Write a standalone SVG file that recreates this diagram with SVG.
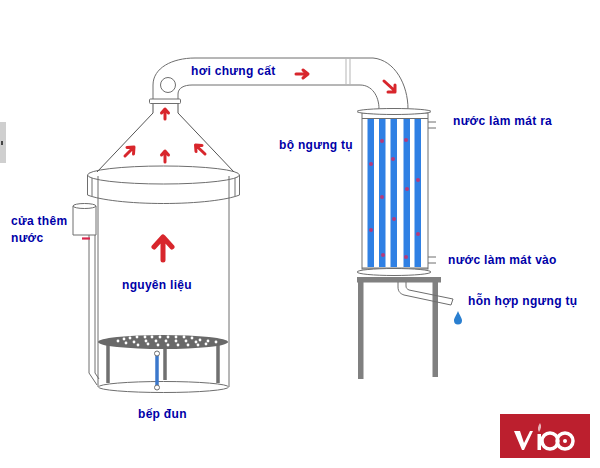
<svg xmlns="http://www.w3.org/2000/svg" width="600" height="468" viewBox="0 0 600 468">
<style>
.l{font-family:"Liberation Sans",Arial,sans-serif;font-size:12px;font-weight:bold;fill:#0000a8;letter-spacing:.3px}
.s{fill:none;stroke:#6e6e6e;stroke-width:1}
.t{fill:#fff;stroke:#6e6e6e;stroke-width:1}
.g{fill:#808080}
.b{fill:#2f80e4}
.a{fill:none;stroke:#d8262c;stroke-width:3;stroke-linecap:round;stroke-linejoin:round}
.d{fill:#b5397a}
.w{fill:#fff}
</style>
<rect width="600" height="468" fill="#fff"/>
<g id="side-tab"><rect x="0" y="122" width="6" height="41" fill="#cfcfcf"/><rect x="1" y="141" width="2" height="4" fill="#444"/></g>
<g id="boiler">
<path class="s" d="M98 176V387M229 176V387"/>
<ellipse class="s" cx="163.500" cy="175" rx="76" ry="9"/>
<path class="s" d="M87.500 175V195C100 200 130 203.500 163.500 203.500S227 200 239.500 195V175"/>
<path class="s" d="M92 178V196M235 178V196"/>
<ellipse class="t" cx="163.500" cy="387" rx="65" ry="5.500"/>
</g>
<g id="grate">
<path d="M108 345V383M165 345V380M218 345V383" fill="none" stroke="#707070" stroke-width="3.500"/>
<ellipse cx="163" cy="342" rx="65" ry="7" fill="#696969"/>
<g class="w">
<circle cx="118" cy="341" r="1.400"/><circle cx="124" cy="339" r="1.400"/><circle cx="130" cy="338" r="1.400"/><circle cx="137" cy="337" r="1.400"/><circle cx="145" cy="337" r="1.400"/><circle cx="152" cy="337" r="1.400"/><circle cx="160" cy="337" r="1.400"/><circle cx="168" cy="337" r="1.400"/><circle cx="176" cy="337" r="1.400"/><circle cx="184" cy="337" r="1.400"/><circle cx="192" cy="338" r="1.400"/><circle cx="200" cy="340" r="1.400"/><circle cx="208" cy="341" r="1.400"/><circle cx="216" cy="342" r="1.400"/>
<circle cx="126" cy="343" r="1.400"/><circle cx="134" cy="342" r="1.400"/><circle cx="146" cy="341" r="1.400"/><circle cx="156" cy="341" r="1.400"/><circle cx="166" cy="341" r="1.400"/><circle cx="176" cy="341" r="1.400"/><circle cx="186" cy="341" r="1.400"/><circle cx="196" cy="342" r="1.400"/><circle cx="206" cy="344" r="1.400"/>
<circle cx="138" cy="345" r="1.400"/><circle cx="148" cy="344" r="1.400"/><circle cx="158" cy="345" r="1.400"/><circle cx="168" cy="345" r="1.400"/><circle cx="178" cy="345" r="1.400"/><circle cx="188" cy="345" r="1.400"/><circle cx="198" cy="345" r="1.400"/>
</g>
</g>
<g id="burner">
<path d="M157 355V386" stroke="#3b78cc" stroke-width="3.500" fill="none"/>
<circle class="t" cx="157" cy="353.500" r="2.500"/>
<circle class="t" cx="157" cy="387.500" r="2.500"/>
</g>
<g id="water-inlet">
<path class="s" d="M89 235V373L97 385M95 235V373L99 379"/>
<path class="t" d="M73 206V235H96V206"/>
<ellipse class="t" cx="84.500" cy="206" rx="11.500" ry="2.500"/>
<path d="M82 238.500H90" stroke="#d8264c" stroke-width="2.200" fill="none"/>
</g>
<g id="hood">
<path d="M153 103V113L97 172M178 103V113L234 172" fill="none" stroke="#555" stroke-width="1"/>
</g>
<g id="vapor-pipe">
<path class="s" d="M153 99V85C153 68 172 58 195 58H373C395 60 408 85 408 109M178 99V94C178 88 184 85 192 85H360C372 85 379 96 379 109"/>
<path d="M346 58V85M350 58V85" fill="none" stroke="#b5b5b5" stroke-width="1"/>
<circle class="s" cx="168" cy="85" r="7.500"/>
<rect class="t" x="149.500" y="99" width="31" height="4.500" rx="1"/>
</g>
<g id="condenser">
<path class="t" d="M428 122H436M428 128H436M428 257H436M428 263H436"/>
<rect class="t" x="362" y="113" width="66" height="156"/>
<path class="s" d="M362 118.500H428M362 268H428"/>
<g class="b">
<rect x="367.500" y="119" width="6.500" height="148"/><rect x="379" y="119" width="6.500" height="148"/><rect x="390.500" y="119" width="6.500" height="148"/><rect x="403.500" y="119" width="6.500" height="148"/><rect x="414.500" y="119" width="6.500" height="148"/>
</g>
<g class="d">
<circle cx="382" cy="141" r="2"/><circle cx="406" cy="140" r="2"/><circle cx="371" cy="164" r="2"/><circle cx="393" cy="159" r="2"/><circle cx="418" cy="180" r="2"/><circle cx="407" cy="189" r="2"/><circle cx="382" cy="197" r="2"/><circle cx="394" cy="219" r="2"/><circle cx="371" cy="230" r="2"/><circle cx="418" cy="234" r="2"/><circle cx="383" cy="255" r="2"/><circle cx="406" cy="257" r="2"/>
</g>
<ellipse class="t" cx="394" cy="111.500" rx="37" ry="3"/>
<ellipse class="t" cx="394" cy="272" rx="37" ry="3.500"/>
</g>
<g id="stand">
<rect class="g" x="357" y="277" width="84" height="5.500"/>
<rect class="g" x="358" y="282" width="5.500" height="97"/>
<rect class="g" x="432.500" y="282" width="5.500" height="95"/>
<path class="s" d="M398 282V287C398 292 401 294 404 295L451 305L453 299L409 290C407 289 406 288 406 286V282"/>
</g>
<g id="drop"><path d="M458 311C456 316 454 318 454 320.500A4 4 0 0 0 462 320.500C462 318 460 316 458 311Z" fill="#2a7fd0"/></g>
<g id="arrows">
<path class="a" style="stroke-width:5" d="M163 260V238M154 247L163 237L172 247"/>
<path class="a" d="M165 119V110M161.500 113L165 109L168.500 113"/>
<path class="a" d="M165 162V152M161.500 155L165 151L168.500 155"/>
<path class="a" d="M125 156L133 148M127 147.500L134 147L133.500 154"/>
<path class="a" d="M205 154L196 145.500M196 151.500L195.500 145L202 145.500"/>
<path class="a" d="M296 74H307M303 70L308 74L303 78"/>
<path class="a" d="M384 81L395 91M395 85V92H388"/>
</g>
<g id="labels">
<text class="l" x="191" y="75">hơi chưng cất</text>
<text class="l" x="279" y="149">bộ ngưng tụ</text>
<text class="l" x="453" y="125">nước làm mát ra</text>
<text class="l" x="448" y="264">nước làm mát vào</text>
<text class="l" x="468" y="305">hỗn hợp ngưng tụ</text>
<text class="l" x="11" y="225">cửa thêm</text>
<text class="l" x="11" y="242">nước</text>
<text class="l" x="122" y="289">nguyên liệu</text>
<text class="l" x="138" y="418">bếp đun</text>
</g>
<g id="logo">
<rect x="500" y="414" width="90" height="44" fill="#bc1f2e"/>
<path d="M514 431H520L524 443L530 431H533L524 450H522Z" fill="#fff"/>
<rect x="537.500" y="434" width="3.500" height="16" fill="#fff"/>
<path d="M540 423C542 426 541 429 539 432C537 429 538 426 540 423Z" fill="#e8b4b8"/>
<circle cx="550" cy="441" r="8" fill="none" stroke="#fff" stroke-width="3.500"/>
<circle cx="565" cy="441" r="8" fill="none" stroke="#fff" stroke-width="3.500"/>
<circle cx="565" cy="441" r="2" fill="#fff"/>
</g>
</svg>
